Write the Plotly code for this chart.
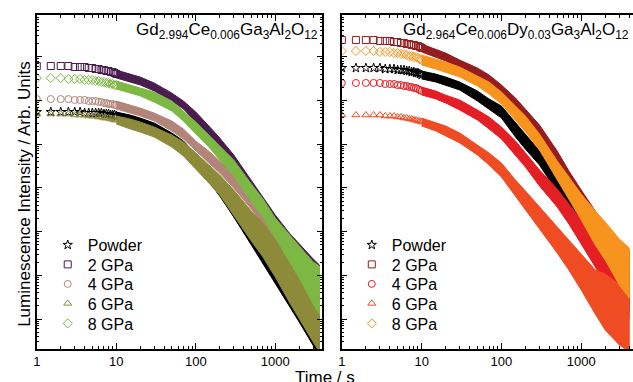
import plotly.graph_objects as go

W, H = 633, 382
FONT = "Liberation Sans"

# ---------------- data (time in s, intensity in arb. units) ----------------
t_early = [1, 1.5, 2, 2.5, 3, 3.5, 4, 4.5, 5, 5.5, 6, 6.5, 7, 7.5, 8, 8.5, 9, 9.5, 10]
t_band_left = [10, 15, 20, 30, 50, 70, 100, 150, 200, 300, 500, 700, 1000, 1500, 2000, 3000, 3600]
t_band_right = [10, 15, 20, 30, 50, 70, 100, 150, 200, 300, 500, 700, 1000, 1500, 2000, 3000, 4000]

# Left panel: Gd2.994Ce0.006Ga3Al2O12
L_powder_early = [5.46e3]*6 + [5.18e3]*6 + [4.91e3]*3 + [4.66e3]*3 + [4.42e3]
L_2gpa_early = [6.16e4]*4 + [5.85e4]*3 + [5.55e4]*2 + [5.26e4]*2 + [4.99e4]*2 + [4.74e4]*2 + [4.49e4]*2 + [4.26e4, 4.04e4]
L_4gpa_early = [1.08e4]*4 + [1.03e4]*3 + [9.74e3]*3 + [9.25e3]*2 + [8.77e3]*2 + [8.32e3]*3 + [7.89e3]*2
L_6gpa_early = [4.91e3]*4 + [4.66e3]*3 + [4.42e3]*3 + [4.20e3]*2 + [3.98e3]*3 + [3.78e3]*2 + [3.58e3]*2
L_8gpa_early = [3.27e4]*3 + [3.11e4]*3 + [2.95e4]*3 + [2.80e4]*2 + [2.65e4]*2 + [2.52e4]*2 + [2.39e4]*2 + [2.26e4]*2

L_powder_band = [4.42e3, 3.78e3, 3.22e3, 2.35e3, 1.39e3, 864, 435, 187, 99.5, 36.6, 9.30, 3.60, 1.47, 0.486, 0.232, 0.0811, 0.0504]
L_2gpa_band = [4.04e4, 3.27e4, 2.80e4, 2.04e4, 1.20e4, 7.89e3, 4.20e3, 1.90e3, 1.07e3, 413, 105, 40.6, 14.2, 4.94, 2.49, 1.02, 0.703]
L_4gpa_band = [7.89e3, 6.39e3, 5.46e3, 4.20e3, 2.61e3, 1.71e3, 910, 484, 301, 144, 52.9, 25.3, 9.80, 3.42, 1.63, 0.513, 0.319]
L_6gpa_band = [3.58e3, 2.90e3, 2.48e3, 1.90e3, 1.18e3, 777, 413, 197, 117, 45.2, 13.4, 6.43, 2.49, 0.781, 0.374, 0.130, 0.0854]
L_8gpa_band = [2.26e4, 1.83e4, 1.57e4, 1.20e4, 7.49e3, 4.42e3, 2.35e3, 1.12e3, 629, 286, 76.5, 34.7, 12.1, 4.22, 2.02, 0.667, 0.461]

# scatter spread of each band (ratio of band edge to centre)
L_powder_spread = [1.23, 1.23, 1.23, 1.30, 1.30, 1.37, 1.37, 1.45, 1.52, 1.69, 1.88, 1.98, 2.21, 2.45, 2.72, 3.19, 3.54]
L_2gpa_spread = [1.23, 1.23, 1.23, 1.23, 1.23, 1.23, 1.30, 1.30, 1.30, 1.37, 1.45, 1.52, 1.69, 1.88, 2.09, 2.32, 2.45]
L_4gpa_spread = [1.23, 1.23, 1.23, 1.23, 1.30, 1.30, 1.30, 1.37, 1.37, 1.45, 1.61, 1.69, 1.88, 2.21, 2.58, 3.19, 3.54]
L_6gpa_spread = [1.23, 1.30, 1.30, 1.30, 1.37, 1.45, 1.52, 1.61, 1.69, 1.98, 2.21, 2.45, 2.72, 3.19, 3.74, 4.37, 4.86]
L_8gpa_spread = [1.23, 1.23, 1.23, 1.30, 1.30, 1.30, 1.37, 1.37, 1.45, 1.52, 1.61, 1.61, 1.69, 1.98, 2.32, 3.03, 3.54]

# Right panel: Gd2.964Ce0.006Dy0.03Ga3Al2O12
R_powder_early = [5.55e4]*5 + [5.26e4]*3 + [4.99e4]*3 + [4.74e4]*2 + [4.49e4]*2 + [4.26e4]*2 + [4.04e4, 3.84e4]
R_2gpa_early = [2.42e5]*4 + [2.30e5]*3 + [2.18e5]*2 + [2.07e5]*2 + [1.96e5]*2 + [1.86e5]*2 + [1.77e5]*2 + [1.68e5, 1.59e5]
R_4gpa_early = [2.52e4]*5 + [2.39e4]*3 + [2.26e4]*2 + [2.15e4]*2 + [2.04e4]*2 + [1.93e4]*2 + [1.83e4, 1.74e4, 1.65e4]
R_6gpa_early = [4.66e3]*5 + [4.42e3]*3 + [4.20e3]*2 + [3.98e3]*2 + [3.78e3]*2 + [3.58e3]*2 + [3.40e3]*2 + [3.22e3]
R_8gpa_early = [1.36e5]*4 + [1.29e5]*3 + [1.22e5]*2 + [1.16e5]*2 + [1.10e5] + [1.04e5]*2 + [9.90e4]*2 + [9.39e4, 8.91e4, 8.45e4]

R_powder_band = [3.84e4, 3.27e4, 2.80e4, 2.15e4, 1.27e4, 8.32e3, 5.46e3, 2.12e3, 1.12e3, 484, 123, 36.6, 13.4, 4.69, 2.36, 0.781, 0.415]
R_2gpa_band = [1.59e5, 1.22e5, 9.90e4, 6.85e4, 4.26e4, 2.95e4, 1.74e4, 8.32e3, 4.66e3, 1.90e3, 459, 169, 58.8, 18.4, 8.82, 3.07, 1.81]
R_4gpa_band = [1.65e4, 1.34e4, 1.08e4, 7.89e3, 4.66e3, 3.06e3, 1.81e3, 819, 435, 169, 58.8, 25.3, 9.80, 3.42, 1.72, 0.600, 0.336]
R_6gpa_band = [3.22e3, 2.48e3, 2.01e3, 1.39e3, 737, 459, 257, 99.5, 52.9, 20.5, 6.43, 2.92, 1.19, 0.415, 0.245, 0.124, 0.0854]
R_8gpa_band = [8.45e4, 6.85e4, 5.85e4, 4.49e4, 2.80e4, 1.93e4, 1.14e4, 5.18e3, 2.90e3, 1.12e3, 257, 99.5, 36.6, 12.1, 6.10, 2.02, 1.13]

R_powder_spread = [1.23, 1.23, 1.23, 1.23, 1.30, 1.30, 1.37, 1.45, 1.45, 1.45, 1.52, 1.61, 1.69, 1.98, 2.21, 2.58, 2.87]
R_2gpa_spread = [1.23, 1.23, 1.23, 1.23, 1.30, 1.30, 1.30, 1.37, 1.37, 1.45, 1.52, 1.45, 1.52, 1.61, 1.69, 1.88, 1.98]
R_4gpa_spread = [1.23, 1.23, 1.23, 1.30, 1.30, 1.37, 1.37, 1.45, 1.45, 1.52, 1.61, 1.69, 1.88, 2.21, 2.45, 2.87, 3.19]
R_6gpa_spread = [1.23, 1.23, 1.30, 1.30, 1.30, 1.37, 1.45, 1.52, 1.61, 1.79, 1.98, 2.21, 2.58, 3.19, 4.37, 4.86, 4.86]
R_8gpa_spread = [1.30, 1.30, 1.30, 1.30, 1.30, 1.37, 1.37, 1.45, 1.52, 1.52, 1.61, 1.79, 1.98, 2.45, 2.72, 3.36, 3.74]

series_names = ["Powder", "2 GPa", "4 GPa", "6 GPa", "8 GPa"]
symbols = ["star-open", "square-open", "circle-open", "triangle-up-open", "diamond-open"]
left_colors = ["#000000", "#4b1c50", "#b3857a", "#8d8b3a", "#7cb843"]
right_colors = ["#000000", "#951c1f", "#e31e25", "#f04c24", "#f7941d"]

left_title = "Gd<sub>2.994</sub>Ce<sub>0.006</sub>Ga<sub>3</sub>Al<sub>2</sub>O<sub>12</sub>"
right_title = "Gd<sub>2.964</sub>Ce<sub>0.006</sub>Dy<sub>0.03</sub>Ga<sub>3</sub>Al<sub>2</sub>O<sub>12</sub>"
y_title = "Luminescence Intensity / Arb. Units"
x_title = "Time / s"

x_ticks = [1, 10, 100, 1000]
x_ticktext = ["1", "10", "100", "1000"]

# ---------------- figure ----------------
fig = go.Figure()

def px_x(p):
    return p / W

def px_y(p):
    return 1 - p / H

left_sets = [
    (L_powder_early, L_powder_band, L_powder_spread),
    (L_2gpa_early, L_2gpa_band, L_2gpa_spread),
    (L_4gpa_early, L_4gpa_band, L_4gpa_spread),
    (L_6gpa_early, L_6gpa_band, L_6gpa_spread),
    (L_8gpa_early, L_8gpa_band, L_8gpa_spread),
]
right_sets = [
    (R_powder_early, R_powder_band, R_powder_spread),
    (R_2gpa_early, R_2gpa_band, R_2gpa_spread),
    (R_4gpa_early, R_4gpa_band, R_4gpa_spread),
    (R_6gpa_early, R_6gpa_band, R_6gpa_spread),
    (R_8gpa_early, R_8gpa_band, R_8gpa_spread),
]

legend_layouts = {}
legend_rows = [245, 264.5, 284, 303.5, 323.5]

def add_panel(sets, t_band, colors, xa, ya, legend_offset, legend_x):
    for i, (early, band, spread) in enumerate(sets):
        c = colors[i]
        mk = dict(symbol=symbols[i], size=7, color=c, line=dict(width=1, color=c))
        upper = [v * s for v, s in zip(band, spread)]
        lower = [v / s for v, s in zip(band, spread)]
        fig.add_trace(go.Scatter(
            x=t_band + t_band[::-1], y=upper + lower[::-1],
            fill="toself", fillcolor=c, mode="lines",
            line=dict(color=c, width=1), hoverinfo="skip",
            showlegend=False, xaxis=xa, yaxis=ya))
        lid = "legend" if legend_offset + i == 1 else f"legend{legend_offset + i}"
        fig.add_trace(go.Scatter(
            x=t_early, y=early, mode="markers", name=series_names[i],
            marker=mk, xaxis=xa, yaxis=ya, legend=lid, showlegend=True))
        legend_layouts[lid] = dict(
            x=px_x(legend_x), y=px_y(legend_rows[i]), xanchor="left", yanchor="middle",
            bgcolor="rgba(0,0,0,0)", borderwidth=0,
            font=dict(family=FONT, size=16, color="black"))

add_panel(left_sets, t_band_left, left_colors, "x", "y", 1, 44)
add_panel(right_sets, t_band_right, right_colors, "x2", "y2", 6, 350)

minor_x = [m * d for d in (1, 10, 100, 1000) for m in range(2, 10)]
major_y = [10.0 ** k for k in range(-1, 6)]
minor_y = [m * 10.0 ** k for k in range(-2, 6) for m in range(2, 10)]

xcommon = dict(type="log", showline=True, linecolor="black", linewidth=1.5,
               mirror="ticks", ticks="inside", ticklen=6, tickwidth=1, tickcolor="black",
               tickmode="array", tickvals=x_ticks, ticktext=x_ticktext,
               minor=dict(ticks="inside", ticklen=3, tickwidth=1, tickcolor="black",
                          tickmode="array", tickvals=minor_x),
               showgrid=False, zeroline=False,
               tickfont=dict(family=FONT, size=13, color="black"))
ycommon = dict(type="log", range=[-1.686, 5.957], showline=True, linecolor="black",
               linewidth=1.5, mirror="ticks", ticks="inside", ticklen=5, tickwidth=1,
               tickcolor="black", tickmode="array", tickvals=major_y, showticklabels=False,
               minor=dict(ticks="inside", ticklen=2.5, tickwidth=1, tickcolor="black",
                          tickmode="array", tickvals=minor_y),
               showgrid=False, zeroline=False)

layout = dict(
    width=W, height=H, margin=dict(l=0, r=0, t=0, b=0),
    paper_bgcolor="white", plot_bgcolor="white",
    font=dict(family=FONT, color="black"),
    xaxis=dict(xcommon, domain=[px_x(33), px_x(320)], range=[0, 3.5875], anchor="y"),
    yaxis=dict(ycommon, domain=[px_y(349), px_y(15)], anchor="x"),
    xaxis2=dict(xcommon, domain=[px_x(340), 1.0], range=[0, 3.649], anchor="y2"),
    yaxis2=dict(ycommon, domain=[px_y(349), px_y(15)], anchor="x2", mirror=False),
    annotations=[
        dict(text=left_title, xref="paper", yref="paper", x=px_x(318), y=px_y(31),
             xanchor="right", yanchor="middle", showarrow=False,
             font=dict(family=FONT, size=17, color="black")),
        dict(text=right_title, xref="paper", yref="paper", x=px_x(631), y=px_y(31),
             xanchor="right", yanchor="middle", showarrow=False,
             font=dict(family=FONT, size=17, color="black")),
        dict(text=y_title, xref="paper", yref="paper", x=px_x(20), y=px_y(194),
             xanchor="center", yanchor="middle", textangle=-90, showarrow=False,
             font=dict(family=FONT, size=17, color="black")),
        dict(text=x_title, xref="paper", yref="paper", x=px_x(323), y=px_y(366),
             xanchor="center", yanchor="top", showarrow=False,
             font=dict(family=FONT, size=17, color="black")),
    ],
)
layout.update(legend_layouts)
fig.update_layout(**layout)

fig.write_html("out.html", config={"displayModeBar": False},
               post_script="document.body.style.margin='0';document.body.style.padding='0';")
